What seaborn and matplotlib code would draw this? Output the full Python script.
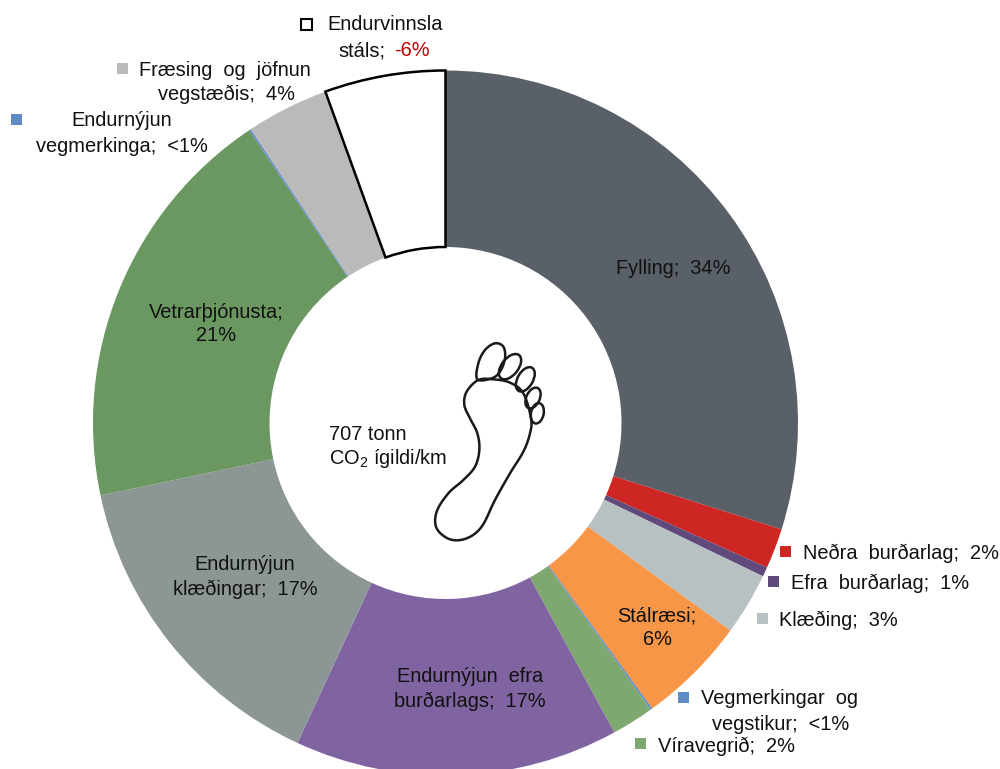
import numpy as np
import seaborn as sns
import matplotlib.pyplot as plt
from matplotlib.patches import Ellipse, Rectangle, Polygon

# values; the negative steel share is drawn by its size
CATEGORIES = [
    "Fylling", "Neðra burðarlag", "Efra burðarlag", "Klæðing", "Stálræsi",
    "Vegmerkingar og vegstikur", "Víravegrið", "Endurnýjun efra burðarlags",
    "Endurnýjun klæðingar", "Vetrarþjónusta", "Endurnýjun vegmerkinga",
    "Fræsing og jöfnun vegstæðis", "Endurvinnsla stáls",
]
SHARES = [34.0, 2.1, 0.5, 3.25, 5.7, 0.1, 2.2, 16.9, 16.85, 21.5, 0.1, 4.3, 6.3]
COLORS = [
    "#5A6068", "#CE2723", "#604A7B", "#B7C0C3", "#F79646", "#5F8BC4", "#7EA870",
    "#8064A2", "#8C9694", "#6A9860", "#5F8BC4", "#BABABA", "#FFFFFF",
]

W, H = 1000, 769
CX, CY, R_OUT, R_IN = 445.5, 423, 352.5, 176
FONT_SIZE = 14.4


def py(y):
    # picture rows run downwards, the axes run upwards
    return H - y


def label(ax, x, y, text, ha="center", color="#111111"):
    ax.text(x, py(y), text, ha=ha, va="center", fontsize=FONT_SIZE, color=color,
            linespacing=1.32, zorder=6)


def key(ax, x, y, color, edge=None):
    ax.add_patch(Rectangle((x - 5.5, py(y) - 5.5), 11, 11, facecolor=color,
                           edgecolor=edge or color, linewidth=1.5 if edge else 0, zorder=6))


def smooth_closed(points, steps=14):
    # closed Catmull-Rom curve through the outline points of the foot
    p = np.array(points, dtype=float)
    out = []
    for i in range(len(p)):
        p0, p1, p2, p3 = p[i - 1], p[i], p[(i + 1) % len(p)], p[(i + 2) % len(p)]
        for t in np.linspace(0, 1, steps, endpoint=False):
            out.append(0.5 * (2 * p1 + (p2 - p0) * t + (2 * p0 - 5 * p1 + 4 * p2 - p3) * t ** 2
                              + (3 * p1 - p0 - 3 * p2 + p3) * t ** 3))
    return np.array(out)


def foot_xy(zx, zy):
    return 420 + zx / 3, py(330 + zy / 3)


def draw_foot(ax):
    sole = [(175, 150), (140, 185), (133, 225), (150, 265), (172, 310), (178, 360), (165, 410),
            (130, 450), (85, 490), (50, 545), (50, 595), (90, 628), (140, 625), (185, 590),
            (225, 510), (270, 430), (310, 365), (330, 310), (333, 265), (310, 190), (270, 158),
            (220, 148)]
    big_toe = [(172, 148), (175, 100), (195, 60), (225, 40), (250, 50), (255, 85), (240, 125),
               (215, 145)]
    for shape in (sole, big_toe):
        xy = smooth_closed([foot_xy(*pt) for pt in shape])
        ax.add_patch(Polygon(xy, closed=True, fill=False, edgecolor="#1a1a1a", linewidth=1.8, zorder=5))
    toes = [(270, 110, 50, 88, -38), (316, 148, 46, 80, -30), (339, 204, 40, 66, -25), (352, 250, 38, 62, -12)]
    for zx, zy, w, h, ang in toes:
        x, y = foot_xy(zx, zy)
        ax.add_patch(Ellipse((x, y), w / 3, h / 3, angle=ang, fill=False,
                             edgecolor="#1a1a1a", linewidth=1.8, zorder=5))


def main():
    sns.set_theme(style="white")
    plt.rcParams["font.family"] = ["Liberation Sans", "DejaVu Sans"]
    plt.rcParams["mathtext.default"] = "regular"

    fig, ax = plt.subplots(figsize=(W / 100, H / 100), dpi=100)
    ax.set_position([0, 0, 1, 1])

    palette = sns.color_palette(COLORS)
    wedges, _ = ax.pie(
        SHARES, colors=palette, startangle=90, counterclock=False,
        center=(CX, py(CY)), radius=R_OUT, frame=True,
        wedgeprops={"width": R_OUT - R_IN, "linewidth": 0},
    )
    wedges[-1].set_edgecolor("black")
    wedges[-1].set_linewidth(1.8)
    wedges[-1].set_zorder(4)

    ax.set_xlim(0, W)
    ax.set_ylim(0, H)
    ax.set_aspect("equal")
    ax.axis("off")

    # labels inside the ring
    label(ax, 673, 268, "Fylling;  34%")
    label(ax, 216, 324, "Vetrarþjónusta;\n21%")
    label(ax, 245, 577, "Endurnýjun\nklæðingar;  17%")
    label(ax, 470, 689, "Endurnýjun  efra\nburðarlags;  17%")
    label(ax, 657, 628, "Stálræsi;\n6%")

    # centre of the ring
    label(ax, 329, 434, "707 tonn", ha="left")
    label(ax, 329, 459, "CO$_2$ ígildi/km", ha="left")
    draw_foot(ax)

    # labels outside with their small keys
    key(ax, 785, 551, COLORS[1])
    label(ax, 803, 553, "Neðra  burðarlag;  2%", ha="left")
    key(ax, 773, 581, COLORS[2])
    label(ax, 791, 583, "Efra  burðarlag;  1%", ha="left")
    key(ax, 762, 618, COLORS[3])
    label(ax, 779, 620, "Klæðing;  3%", ha="left")
    key(ax, 683, 697, COLORS[5])
    label(ax, 701, 699, "Vegmerkingar  og", ha="left")
    label(ax, 781, 724, "vegstikur;  <1%")
    key(ax, 640, 743, COLORS[6])
    label(ax, 658, 746, "Víravegrið;  2%", ha="left")
    key(ax, 16, 119, COLORS[10])
    label(ax, 122, 120, "Endurnýjun")
    label(ax, 122, 146, "vegmerkinga;  <1%")
    key(ax, 122, 68, COLORS[11])
    label(ax, 225, 70, "Fræsing  og  jöfnun")
    label(ax, 226, 94, "vegstæðis;  4%")
    key(ax, 306, 24, "#FFFFFF", edge="black")
    label(ax, 385, 25, "Endurvinnsla")
    label(ax, 338, 51, "stáls;", ha="left")
    label(ax, 394, 51, "-6%", ha="left", color="#C00000")

    fig.savefig("out.png", dpi=100)
    plt.close(fig)


if __name__ == "__main__":
    main()
